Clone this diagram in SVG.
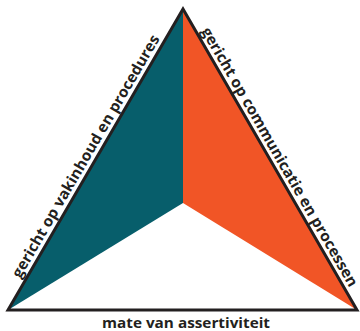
<svg xmlns="http://www.w3.org/2000/svg" width="360" height="331" viewBox="0 0 360 331">
<style>
.lbl{font-family:"Open Sans","Liberation Sans",sans-serif;font-weight:bold;font-size:15px;fill:#231f20}
</style>
<rect width="360" height="331" fill="#ffffff"/>
<g id="teal-sector"><polygon points="183,9 183,203 8,310" fill="#075e6b"/></g>
<g id="orange-sector"><polygon points="183,9 357,310 183,203" fill="#f15526"/></g>
<g id="connectors"><polygon points="8,310 183,9 357,310" fill="none" stroke="#231f20" stroke-width="3" stroke-linejoin="miter" stroke-miterlimit="20"/></g>
<g id="label-left"><text class="lbl" transform="translate(20.2,278.9) rotate(-59.8)" textLength="278" lengthAdjust="spacingAndGlyphs">gericht op vakinhoud en procedures</text></g>
<g id="label-right"><text class="lbl" transform="translate(200.9,30.9) rotate(59.96)" textLength="297" lengthAdjust="spacingAndGlyphs">gericht op communicatie en processen</text></g>
<g id="label-bottom"><text class="lbl" x="186" y="328" text-anchor="middle" textLength="168" lengthAdjust="spacingAndGlyphs">mate van assertiviteit</text></g>
</svg>
